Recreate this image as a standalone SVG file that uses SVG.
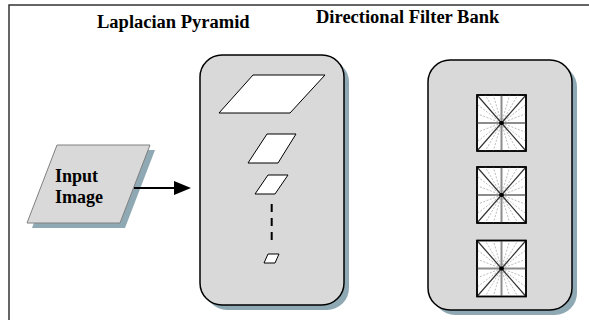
<svg xmlns="http://www.w3.org/2000/svg" width="589" height="320" viewBox="0 0 589 320">
<style>
.title{font-family:"Liberation Serif","Times New Roman",serif;font-weight:bold;font-size:18.5px;fill:#000}
.lbl{font-family:"Liberation Serif","Times New Roman",serif;font-weight:bold;font-size:18px;fill:#000}
.shadow{fill:#8fa9b4;stroke:none}
.panel{fill:#d9d9d9;stroke:#000;stroke-width:1.5}
.layer{fill:#fff;stroke:#000;stroke-width:1}
.ibox{fill:#fff;stroke:#000;stroke-width:1.5}
.cross{stroke:#8c8c8c;stroke-width:2}
.diag{stroke:#333;stroke-width:1.2}
.ray{stroke:#bdbdbd;stroke-width:1;stroke-dasharray:2 1.5}
</style>
<defs>
<g id="dfbicon">
<rect x="0" y="0" width="49" height="56" class="ibox"/>
<g class="ray">
<line x1="24.5" y1="28" x2="8.2" y2="0"/><line x1="24.5" y1="28" x2="16.3" y2="0"/>
<line x1="24.5" y1="28" x2="32.7" y2="0"/><line x1="24.5" y1="28" x2="40.8" y2="0"/>
<line x1="24.5" y1="28" x2="8.2" y2="56"/><line x1="24.5" y1="28" x2="16.3" y2="56"/>
<line x1="24.5" y1="28" x2="32.7" y2="56"/><line x1="24.5" y1="28" x2="40.8" y2="56"/>
<line x1="24.5" y1="28" x2="0" y2="9.3"/><line x1="24.5" y1="28" x2="0" y2="18.7"/>
<line x1="24.5" y1="28" x2="0" y2="37.3"/><line x1="24.5" y1="28" x2="0" y2="46.7"/>
<line x1="24.5" y1="28" x2="49" y2="9.3"/><line x1="24.5" y1="28" x2="49" y2="18.7"/>
<line x1="24.5" y1="28" x2="49" y2="37.3"/><line x1="24.5" y1="28" x2="49" y2="46.7"/>
</g>
<line x1="24.5" y1="0" x2="24.5" y2="56" class="cross"/>
<line x1="0" y1="28" x2="49" y2="28" class="cross"/>
<line x1="0" y1="0" x2="49" y2="56" class="diag"/>
<line x1="49" y1="0" x2="0" y2="56" class="diag"/>
<ellipse cx="24.5" cy="28" rx="2.5" ry="2" fill="#000"/>
<rect x="0" y="0" width="49" height="56" fill="none" stroke="#000" stroke-width="1.5"/>
</g>
</defs>
<rect x="0" y="0" width="589" height="320" fill="#fff"/>
<rect x="9" y="5" width="600" height="340" fill="none" stroke="#333" stroke-width="1.5"/>
<text class="title" x="97" y="28">Laplacian Pyramid</text>
<text class="title" x="316" y="23">Directional Filter Bank</text>

<g id="input-image">
<polygon class="shadow" points="62,150 155,150 125,228 32,228"/>
<polygon points="57,145 150,145 120,223 27,223" fill="#d9d9d9" stroke="#808080" stroke-width="1"/>
<text class="lbl" x="55" y="182">Input</text>
<text class="lbl" x="55" y="203">Image</text>
</g>

<g id="laplacian-pyramid">
<rect class="shadow" x="205" y="60" width="144" height="250" rx="22" ry="22"/>
<rect class="panel" x="200" y="55" width="144" height="250" rx="22" ry="22"/>
<polygon class="layer" points="253,75 325,75 290,113 219,113"/>
<polygon class="layer" points="267,134 296,134 278,163 248,163"/>
<polygon class="layer" points="268,175 288,175 275,194 255,194"/>
<line x1="271.7" y1="204" x2="271.7" y2="240" stroke="#000" stroke-width="2" stroke-dasharray="8 6"/>
<polygon class="layer" points="268,254 279,254 275,263 264,263"/>
</g>

<g id="directional-filter-bank">
<rect class="shadow" x="433" y="65" width="144" height="250" rx="22" ry="22"/>
<rect class="panel" x="428" y="60" width="144" height="250" rx="22" ry="22"/>
<rect x="476" y="94" width="51" height="58" fill="#fff"/>
<rect x="476" y="166" width="51" height="58" fill="#fff"/>
<rect x="476" y="239.5" width="51" height="58" fill="#fff"/>
<use href="#dfbicon" x="477" y="95"/>
<use href="#dfbicon" x="477" y="167"/>
<use href="#dfbicon" x="477" y="240.5"/>
</g>

<g id="connectors">
<line x1="134" y1="188" x2="176" y2="188" stroke="#000" stroke-width="2"/>
<polygon points="174,181 191,188 174,195" fill="#000"/>
</g>
</svg>
